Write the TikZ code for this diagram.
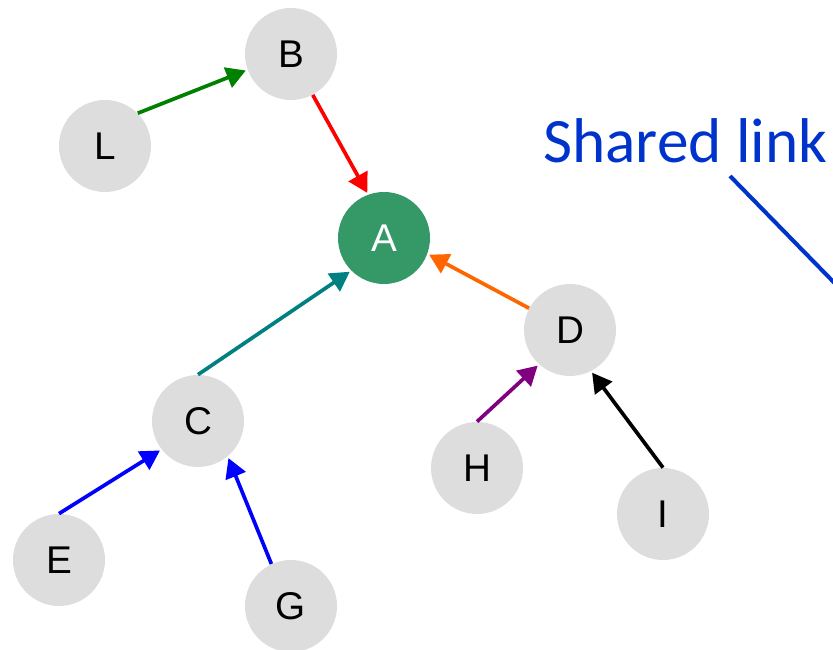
\documentclass[tikz,border=0pt]{standalone}
\usepackage{fontspec}
\setmainfont{Liberation Sans}
\newfontfamily\linkfont{Carlito}
\usepackage{xcolor}
\usetikzlibrary{arrows.meta,positioning}

\definecolor{nodegrey}{RGB}{221,221,221}
\definecolor{rootgreen}{RGB}{53,152,103}
\definecolor{linkblue}{RGB}{0,51,204}
\definecolor{edgegreen}{RGB}{0,128,0}
\definecolor{edgeteal}{RGB}{0,128,128}
\definecolor{edgeorange}{RGB}{255,102,0}
\definecolor{edgepurple}{RGB}{128,0,128}

\tikzset{
  peer/.style={circle, fill=nodegrey, minimum size=1.84cm, inner sep=0pt,
    font=\fontsize{22}{26}\selectfont},
  root/.style={peer, fill=rootgreen, text=white},
  link/.style={line width=2.1pt, -{Triangle[length=11pt,width=12pt]}, shorten >=1pt}
}

\begin{document}
\begin{tikzpicture}
		\useasboundingbox (0,0) rectangle (16.66,13);
		\clip (0,0) rectangle (16.66,13);
		
		\node[peer] (B) at (5.82,11.92) {B};
		\node[peer] (L) at (2.10,10.08) {L};
		\node[root] (A) at (7.68,8.24) {A};
		\node[peer] (D) at (11.40,6.40) {D};
		\node[peer] (C) at (3.96,4.58) {C};
		\node[peer] (H) at (9.54,3.64) {H};
		\node[peer] (I) at (13.26,2.72) {I};
		\node[peer] (E) at (1.18,1.80) {E};
		\node[peer] (G) at (5.82,0.88) {G};
		
		\draw[link, edgegreen] (L.45) -- (B.200);
		\draw[link, red] (B.-62) -- (A.110);
		\draw[link, edgeteal] (C.north) -- (A.225);
		\draw[link, edgeorange] (D.152) -- (A.-20);
		\draw[link, edgepurple] (H.north) -- (D.228);
		\draw[link, black] (I.north) -- (D.-63);
		\draw[link, blue] (E.north) -- (C.218);
		\draw[link, blue] (G.115) -- (C.-50);
		
		% label of the shared link, line runs off the right edge
		\node[anchor=base west, inner sep=0pt, text=linkblue,
		  font=\linkfont\fontsize{36}{40}\selectfont] (share) at (10.86,9.74) {Shared link};
		\coordinate (s1) at (14.60,9.48);
		\coordinate (s2) at (17.10,6.92);
		\draw[linkblue, line width=2.3pt] (s1) -- (s2);
	\end{tikzpicture}
\end{document}
